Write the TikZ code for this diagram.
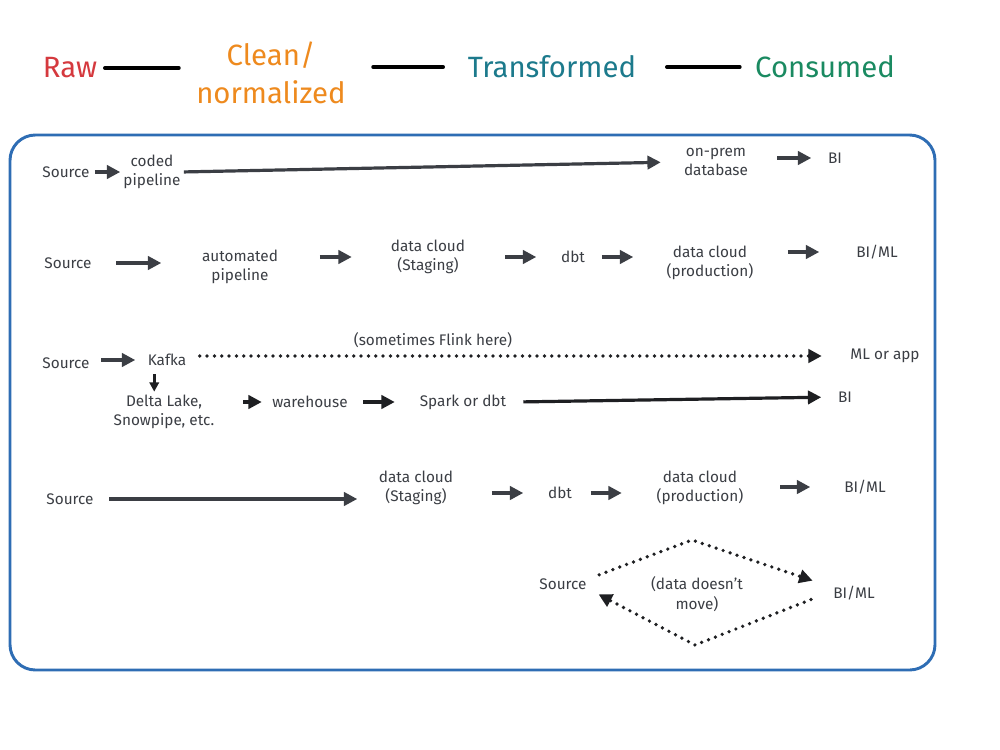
\documentclass[tikz,border=0pt]{standalone}
\usepackage{fontspec}
\setmainfont{Fira Sans}
\usetikzlibrary{arrows.meta,calc}
\definecolor{ink}{HTML}{3B3E44}
\definecolor{dotink}{HTML}{1E1F22}
\definecolor{boxblue}{HTML}{2E6DB4}
\definecolor{rawred}{HTML}{D5393E}
\definecolor{cleanorange}{HTML}{EE8A1E}
\definecolor{transteal}{HTML}{1C7A8C}
\definecolor{consgreen}{HTML}{1A8A61}
\begin{document}
\begin{tikzpicture}[x=0.75pt,y=-0.75pt,
  nw/.style={minimum width=#1*0.75pt},
  sh/.style 2 args={shorten <=#1*0.75pt, shorten >=#2*0.75pt},
  lbl/.style={font=\fontsize{11.5}{14.5}\selectfont, text=ink, align=center, inner sep=0pt},
  ttl/.style={font=\fontsize{22}{28}\selectfont, align=center, inner sep=0pt},
  hline/.style={draw=black, line width=2.6pt, line cap=round},
  arr/.style={draw=ink, line width=2.4pt, -{Triangle[length=10pt,width=10pt]}},
  darkarr/.style={draw=dotink, line width=2.4pt, -{Triangle[length=10pt,width=10pt]}},
  dotarr/.style={draw=dotink, line width=2.8pt, dash pattern=on 0pt off 5.5pt, line cap=round, -{Triangle[length=10pt,width=10pt]}}]
\useasboundingbox (0,0) rectangle (1000,750);
\fill[white] (0,0) rectangle (1000,750);

% ---------- header ----------
\node[ttl, text=rawred, nw=63] (raw) at (70,68) {Raw};
\node[ttl, text=cleanorange, nw=148] (clean) at (271,73) {Clean/\\normalized};
\node[ttl, text=transteal, nw=185] (trans) at (552,67) {Transformed};
\node[ttl, text=consgreen, nw=135] (cons) at (825,67) {Consumed};
\draw[hline, sh={3}{17}] (raw.east) -- (raw.east -| clean.west);
\draw[hline, sh={27}{16}] (trans.west -| clean.east) -- (trans.west);
\draw[hline, sh={22}{15}] (trans.east) -- (cons.west);

% ---------- frame ----------
\draw[draw=boxblue, line width=2.2pt, rounded corners=19pt] (10,135) rectangle (935,670);

% ---------- row 1 ----------
\node[lbl, nw=53] (s1) at (66,172) {Source};
\node[lbl, nw=55] (cp1) at (152,172) {coded\\pipeline};
\node[lbl, nw=80] (db1) at (716,162) {on-prem\\database};
\node[lbl, nw=19] (bi1) at (835,158) {BI};
\draw[arr, sh={2}{3}] (s1.east) -- (s1.east -| cp1.west);
\draw[arr, sh={3}{15}] (cp1.east) -- (db1.west);
\draw[arr, sh={21}{14}] (bi1.west -| db1.east) -- (bi1.west);

% ---------- row 2 ----------
\node[lbl, nw=52] (s2) at (68,263) {Source};
\node[lbl, nw=89] (ap2) at (240,267) {automated\\pipeline};
\node[lbl, nw=90] (dc2) at (428,257) {data cloud\\(Staging)};
\node[lbl, nw=27] (dbt2) at (573,257) {dbt};
\node[lbl, nw=95] (dp2) at (710,263) {data cloud\\(production)};
\node[lbl, nw=55] (bi2) at (877,252) {BI/ML};
\draw[arr, sh={22}{34}] (s2.east) -- (s2.east -| ap2.west);
\draw[arr, sh={35}{31}] (dc2.west -| ap2.east) -- (dc2.west);
\draw[arr, sh={32}{23}] (dc2.east) -- (dbt2.west);
\draw[arr, sh={15}{29}] (dbt2.east) -- (dbt2.east -| dp2.west);
\draw[arr, sh={30}{30}] (bi2.west -| dp2.east) -- (bi2.west);

% ---------- row 3 ----------
\node[lbl, nw=52] (s3) at (66,363) {Source};
\node[lbl, nw=49] (kf) at (167,360) {Kafka};
\node[lbl, nw=80] (ml) at (885,356) {ML or app};
\node[lbl, nw=175] (flink) at (433,340) {(sometimes Flink here)};
\node[lbl, nw=112] (dl) at (164,412) {Delta Lake,\\Snowpipe, etc.};
\node[lbl, nw=84] (wh) at (310,402) {warehouse};
\node[lbl, nw=106] (sp) at (463,402) {Spark or dbt};
\node[lbl, nw=19] (bi3) at (845,397) {BI};
\draw[arr, sh={9}{7}] (kf.west -| s3.east) -- (kf.west);
\draw[dotarr, sh={8}{23}] (ml.west -| kf.east) -- (ml.west);
\draw[draw=dotink, line width=2pt, -{Triangle[length=7pt,width=7pt]}, sh={8}{3}]
  ([xshift=9pt]kf.south west) -- ([xshift=9pt]kf.south west |- dl.north);
\draw[darkarr, sh={23}{6}] (wh.west -| dl.east) -- (wh.west);
\draw[darkarr, sh={11}{15}] (wh.east) -- (sp.west);
\draw[darkarr, sh={7}{14}] (sp.east) -- (bi3.west);

% ---------- row 4 ----------
\node[lbl, nw=52] (s4) at (70,499) {Source};
\node[lbl, nw=91] (dc4) at (416,488) {data cloud\\(Staging)};
\node[lbl, nw=27] (dbt4) at (560,493) {dbt};
\node[lbl, nw=96] (dp4) at (700,488) {data cloud\\(production)};
\node[lbl, nw=53] (bi4) at (865,487) {BI/ML};
\draw[arr, sh={13}{13}] (s4.east) -- (s4.east -| dc4.west);
\draw[arr, sh={30}{23}] (dbt4.west -| dc4.east) -- (dbt4.west);
\draw[arr, sh={17}{30}] (dbt4.east) -- (dbt4.east -| dp4.west);
\draw[arr, sh={32}{28}] (bi4.west -| dp4.east) -- (bi4.west);

% ---------- row 5 ----------
\node[lbl, nw=53] (s5) at (563,584) {Source};
\node[lbl, nw=52] (bi5) at (854,593) {BI/ML};
\node[lbl, nw=115] (dm) at (697,594) {(data doesn't\\move)};
\coordinate (top) at (692,540);
\coordinate (bot) at (695,645);
\draw[dotarr, sh={10}{16}] (s5.north east) -- (top) -- (bi5.north west);
\draw[dotarr, sh={18}{10}] (bi5.west) -- (bot) -- (s5.south east);
\end{tikzpicture}
\end{document}
